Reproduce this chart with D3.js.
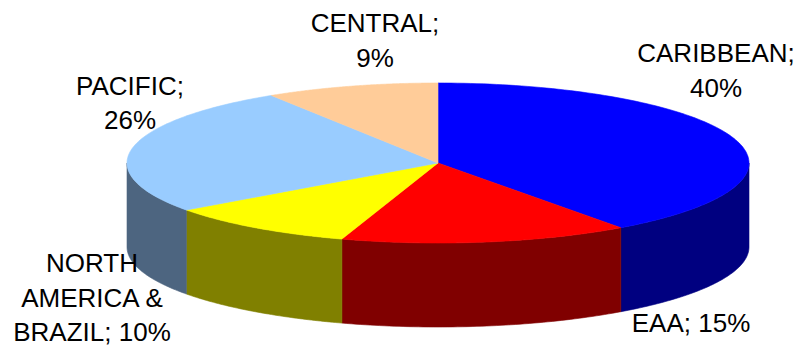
<!DOCTYPE html>
<html>
<head>
<meta charset="utf-8">
<script src="https://cdn.jsdelivr.net/npm/d3@7"></script>
<style>
  html, body { margin: 0; padding: 0; background: #ffffff; }
  svg { display: block; }
  text { font-family: "Liberation Sans", Arial, sans-serif; fill: #000; }
</style>
</head>
<body>
<svg id="chart" width="798" height="352"></svg>
<script>
// Regional shares (percent), clockwise from 12 o'clock
const categories = ["CARIBBEAN", "EAA", "NORTH AMERICA & BRAZIL", "PACIFIC", "CENTRAL"];
const values = [40, 15, 10, 26, 9];

// Top-face and side-wall colours per slice
const topColors  = ["#0000ff", "#ff0000", "#ffff00", "#99ccff", "#ffcc99"];
const sideColors = ["#000080", "#800000", "#808000", "#4d6580", "#806650"];

// Words per label line
const labelWrap = [[1, 1], [2], [1, 2, 2], [1, 1], [1, 1]];
// Label centre x and first baseline y
const labelPos = [[716, 62], [691, 332], [92, 272], [130, 94.5], [375, 32]];

const W = 798, H = 352;
const cx = 438, cy = 163, rx = 311, ry = 80, depth = 84;
const fontSize = 26, lineH = 34.5;

const svg = d3.select("#chart");

const pie = d3.pie().sort(null).value(d => d.value);
const arcs = pie(categories.map((c, i) => ({ name: c, value: values[i], i })));

// Map a pie angle (0 = top, clockwise) onto the tilted ellipse
const px = a => cx + rx * Math.sin(a);
const py = a => cy - ry * Math.cos(a);

// Front side walls (only the part facing the viewer, PI/2 .. 3PI/2)
const wallG = svg.append("g");
arcs.forEach(d => {
  const b0 = Math.max(d.startAngle, Math.PI / 2);
  const b1 = Math.min(d.endAngle, 3 * Math.PI / 2);
  if (b1 <= b0) return;
  const p = d3.path();
  p.moveTo(px(b0), py(b0));
  // upper rim along the ellipse, then back along the lower rim
  const steps = 60;
  for (let k = 1; k <= steps; k++) {
    const a = b0 + (b1 - b0) * k / steps;
    p.lineTo(px(a), py(a));
  }
  for (let k = steps; k >= 0; k--) {
    const a = b0 + (b1 - b0) * k / steps;
    p.lineTo(px(a), py(a) + depth);
  }
  p.closePath();
  wallG.append("path")
    .attr("d", p.toString())
    .attr("fill", sideColors[d.data.i])
    .attr("stroke", sideColors[d.data.i])
    .attr("stroke-width", 0.6);
});

// Top faces
const topG = svg.append("g");
arcs.forEach(d => {
  const p = d3.path();
  p.moveTo(cx, cy);
  const steps = 120;
  for (let k = 0; k <= steps; k++) {
    const a = d.startAngle + (d.endAngle - d.startAngle) * k / steps;
    p.lineTo(px(a), py(a));
  }
  p.closePath();
  topG.append("path")
    .attr("d", p.toString())
    .attr("fill", topColors[d.data.i])
    .attr("stroke", topColors[d.data.i])
    .attr("stroke-width", 0.6);
});

// Data labels: "NAME; NN%", wrapped onto lines
const labelG = svg.append("g");
arcs.forEach(d => {
  const i = d.data.i;
  const words = `${d.data.name}; ${d.data.value}%`.split(" ");
  const lines = [];
  let w = 0;
  labelWrap[i].forEach(n => { lines.push(words.slice(w, w + n).join(" ")); w += n; });
  const t = labelG.append("text")
    .attr("text-anchor", "middle")
    .attr("font-size", fontSize);
  lines.forEach((ln, k) => {
    t.append("tspan")
      .attr("x", labelPos[i][0])
      .attr("y", labelPos[i][1] + k * lineH)
      .text(ln);
  });
});
</script>
</body>
</html>
